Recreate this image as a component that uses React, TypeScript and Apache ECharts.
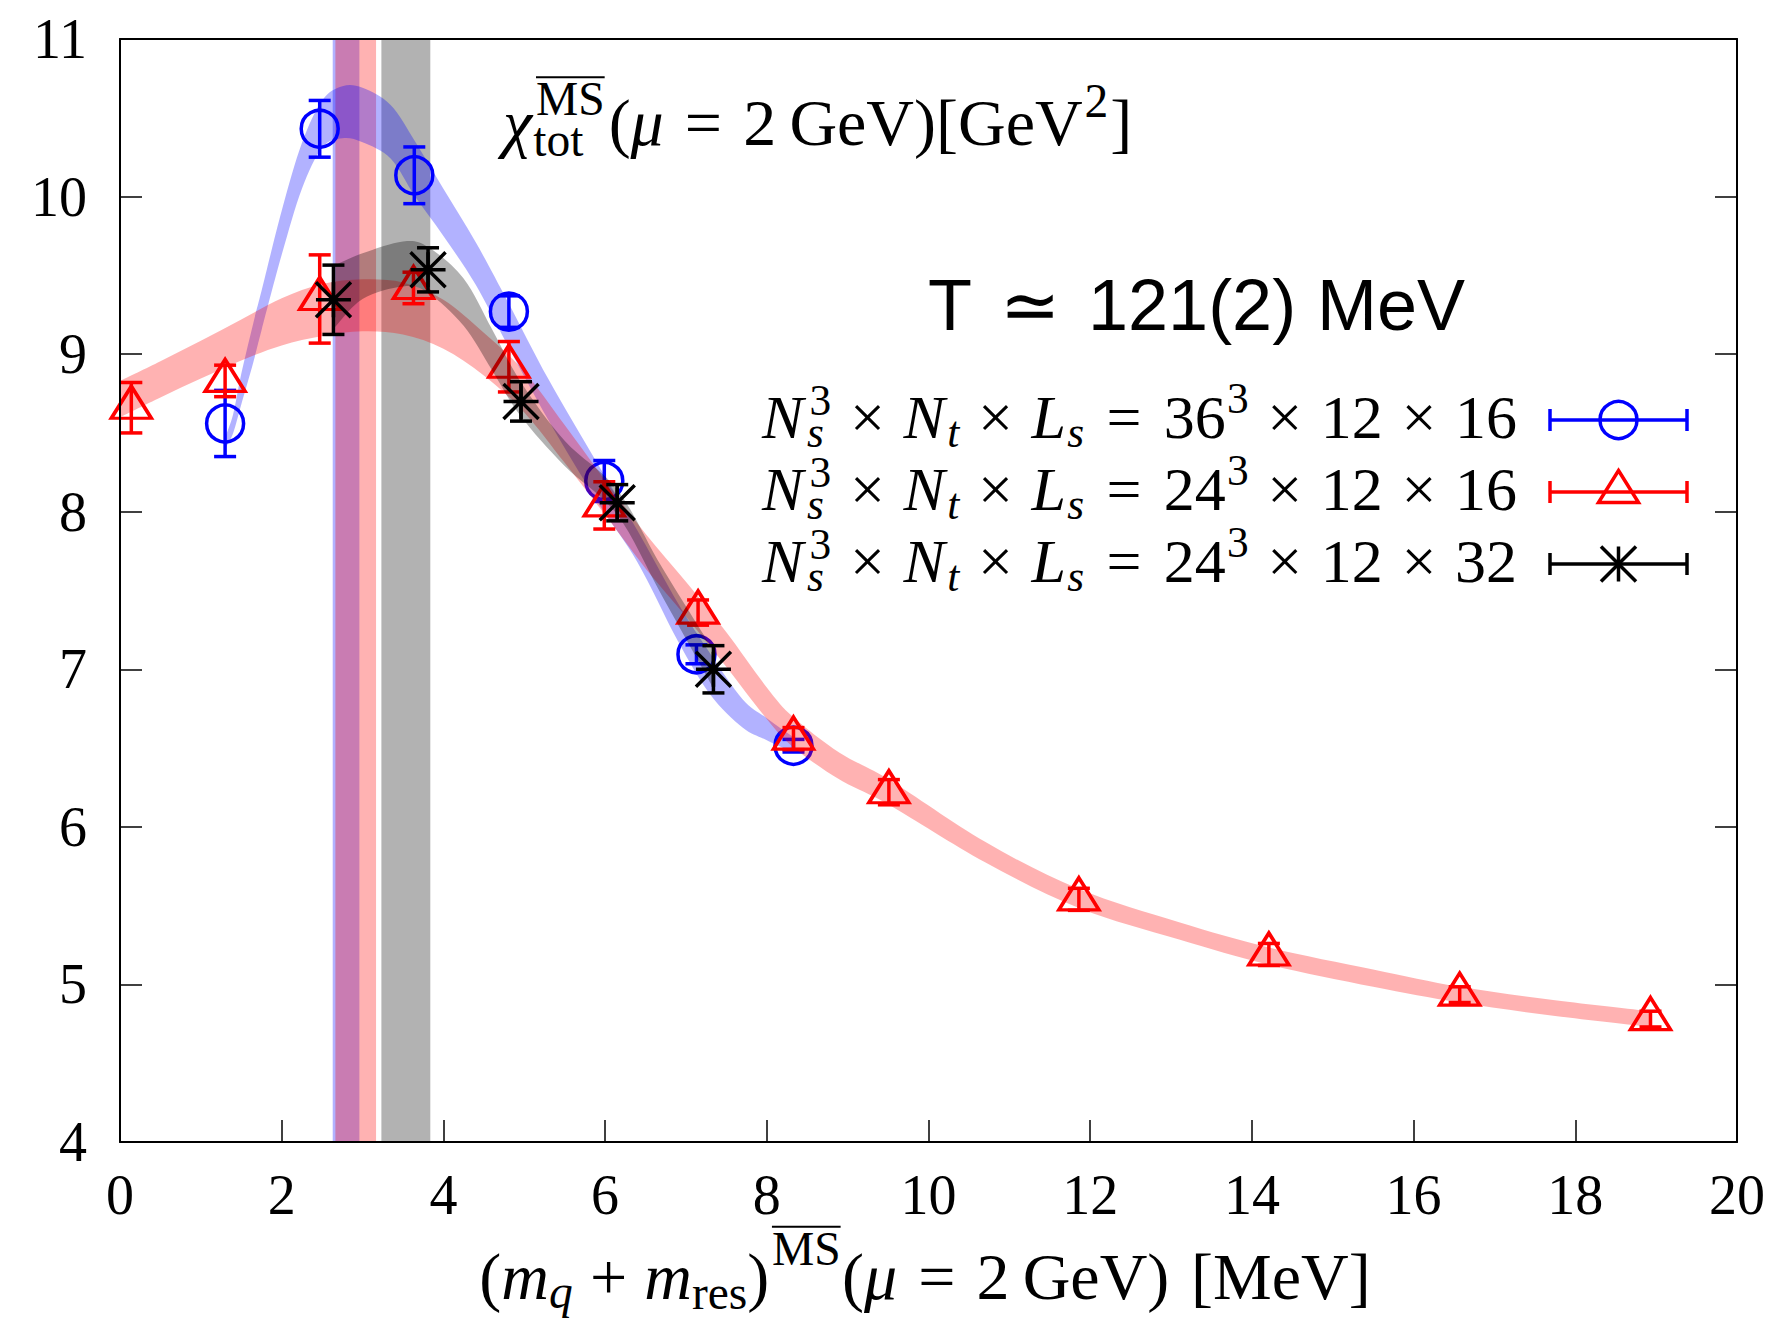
import React, { useEffect, useRef } from "react";
import * as echarts from "echarts";

// ---------------- axes ----------------
const X_MIN = 0;
const X_MAX = 20;
const X_STEP = 2;
const Y_MIN = 4;
const Y_MAX = 11;
const Y_STEP = 1;

// ---------------- measurements ----------------
// N_s^3 x N_t x L_s = 36^3 x 12 x 16
const blueX = [1.3, 2.47, 3.64, 4.81, 5.99, 7.13, 8.33];
const blueY = [8.56, 10.43, 10.135, 9.27, 8.195, 7.095, 6.515];
const blueErr = [0.21, 0.18, 0.18, 0.1, 0.13, 0.06, 0.04];

// N_s^3 x N_t x L_s = 24^3 x 12 x 16
const redX = [0.14, 1.3, 2.47, 3.63, 4.81, 5.99, 7.15, 8.33, 9.51, 11.86, 14.21, 16.57, 18.93];
const redY = [8.66, 8.83, 9.35, 9.42, 8.92, 8.04, 7.36, 6.56, 6.22, 5.54, 5.19, 4.935, 4.78];
const redErr = [0.16, 0.1, 0.28, 0.1, 0.16, 0.15, 0.08, 0.07, 0.08, 0.07, 0.07, 0.05, 0.05];

// N_s^3 x N_t x L_s = 24^3 x 12 x 32
const blackX = [2.64, 3.81, 4.96, 6.15, 7.34];
const blackY = [9.345, 9.535, 8.7, 8.057, 7.0];
const blackErr = [0.22, 0.14, 0.125, 0.115, 0.15];

// ---------------- fit bands (lower / upper edge) ----------------
const blueBandX = [1.3, 1.4, 1.5, 1.65, 1.75, 2.0, 2.25, 2.5, 2.75, 3.0, 3.35, 3.65, 4.0, 4.4, 4.8, 5.3, 5.9, 6.4, 6.9, 7.3, 7.7, 8.0, 8.33];
const blueBandLo = [8.4, 8.5, 8.68, 8.95, 9.15, 9.63, 10.05, 10.31, 10.37, 10.345, 10.24, 10.0, 9.75, 9.44, 9.05, 8.58, 8.067, 7.68, 7.18, 6.84, 6.63, 6.55, 6.47];
const blueBandHi = [8.47, 8.62, 8.875, 9.2, 9.4, 9.91, 10.34, 10.61, 10.7, 10.69, 10.58, 10.35, 10.05, 9.71, 9.33, 8.84, 8.31, 7.88, 7.42, 7.1, 6.81, 6.69, 6.57];

const redBandX = [0, 0.5, 1.0, 1.5, 2.0, 2.5, 3.0, 3.5, 4.0, 4.5, 5.0, 5.5, 6.0, 6.5, 7.0, 7.5, 8.0, 8.33, 8.9, 9.51, 10.7, 11.86, 13.1, 14.21, 15.5, 16.57, 17.75, 18.93];
const redBandLo = [8.6, 8.725, 8.845, 8.96, 9.055, 9.115, 9.145, 9.125, 9.035, 8.865, 8.63, 8.31, 7.98, 7.64, 7.335, 7.015, 6.685, 6.505, 6.3, 6.14, 5.775, 5.485, 5.285, 5.125, 4.985, 4.885, 4.8, 4.73];
const redBandHi = [8.83, 8.955, 9.085, 9.22, 9.355, 9.445, 9.475, 9.455, 9.345, 9.135, 8.89, 8.55, 8.2, 7.86, 7.555, 7.235, 6.885, 6.695, 6.47, 6.3, 5.905, 5.605, 5.395, 5.235, 5.095, 4.985, 4.9, 4.83];

const blackBandX = [2.64, 3.0, 3.5, 3.81, 4.25, 4.6, 4.95, 5.5, 6.15, 6.7, 7.34];
const blackBandLo = [9.16, 9.35, 9.43, 9.39, 9.18, 8.9, 8.61, 8.29, 7.98, 7.47, 6.88];
const blackBandHi = [9.56, 9.64, 9.715, 9.68, 9.48, 9.16, 8.83, 8.45, 8.14, 7.65, 7.12];

// vertical bands on the quark-mass axis
const massBands = [
  [2.631, 2.961],
  [2.664, 3.167],
  [3.233, 3.838],
];

// ---------------- styling ----------------
const BLUE = "#0000ff";
const RED = "#ff0000";
const BLACK = "#000000";
const BLUE_FILL = "rgba(0,0,255,0.3)";
const RED_FILL = "rgba(255,0,0,0.3)";
const GREY_FILL = "rgba(0,0,0,0.3)";
const massBandFills = [BLUE_FILL, RED_FILL, GREY_FILL];

const SERIF = "Liberation Serif";
const SANS = "Liberation Sans";
const W = 1784;
const H = 1322;
const GRID = { left: 120, right: 47, top: 39, bottom: 180 };

const LW = 3.5; // point / error bar stroke
const CAP = 11; // half width of error bar caps
const CIRCLE_SIZE = 37;
const TRI_W = 40;
const TRI_H = 32;
const TRI_SHIFT = 5.5;
const STAR_SIZE = 35;
const ASTERISK = "path://M-1,0L1,0M0,-1L0,1M-1,-1L1,1M-1,1L1,-1";

const zip = (xs: number[], ys: number[]) => xs.map((x, i) => [x, ys[i]]);

// ---------------- math-like text layout ----------------
type Tok = { t: string; it?: boolean; k?: number; dy?: number; over?: boolean; pre?: number; post?: number };
type Item = Tok | { up: Tok; dn: Tok };

let measureCtx: CanvasRenderingContext2D | null = null;
function ctx2d() {
  if (!measureCtx) measureCtx = document.createElement("canvas").getContext("2d");
  return measureCtx as CanvasRenderingContext2D;
}
function fontOf(size: number, it: boolean, fam: string) {
  return `${it ? "italic " : ""}${size}px "${fam}"`;
}
function textW(t: string, size: number, it: boolean, fam: string) {
  const c = ctx2d();
  c.font = fontOf(size, it, fam);
  return c.measureText(t).width;
}
// distance from the alphabetic baseline up to the "central" baseline used for SVG text
function centralAbove(size: number, it: boolean, fam: string) {
  const c = ctx2d();
  c.font = fontOf(size, it, fam);
  c.textBaseline = "alphabetic";
  const m: any = c.measureText("Mg");
  const a = m.fontBoundingBoxAscent;
  const d = m.fontBoundingBoxDescent;
  if (typeof a === "number" && typeof d === "number" && a > 0) return (a - d) / 2;
  return size * 0.34;
}

function textEl(t: string, x: number, baseline: number, size: number, it: boolean, fam: string, color: string) {
  return {
    type: "text",
    x,
    y: baseline - centralAbove(size, it, fam),
    silent: true,
    z: 50,
    style: {
      text: t,
      fontSize: size,
      fontFamily: fam,
      fontStyle: it ? "italic" : "normal",
      fill: color,
      align: "left",
      verticalAlign: "middle",
    },
  };
}

// superscript over subscript, drawn as one two-line rich text
function scriptStackEl(up: Tok, dn: Tok, x: number, baseline: number, base: number, fam: string, color: string) {
  const su = base * (up.k ?? 1);
  const sd = base * (dn.k ?? 1);
  const yu = baseline + (up.dy ?? 0) * base - centralAbove(su, !!up.it, fam);
  const yd = baseline + (dn.dy ?? 0) * base - centralAbove(sd, !!dn.it, fam);
  const L = yd - yu;
  const rs = (tk: Tok, size: number) => ({
    fontSize: size,
    fontFamily: fam,
    fontStyle: tk.it ? "italic" : "normal",
    lineHeight: L,
    fill: color,
    color,
    padding: [0, 0, 0, (tk.pre ?? 0) * base],
  });
  return {
    type: "text",
    x,
    y: (yu + yd) / 2,
    silent: true,
    z: 50,
    style: {
      text: `{u|${up.t}}\n{d|${dn.t}}`,
      align: "left",
      verticalAlign: "middle",
      rich: { u: rs(up, su), d: rs(dn, sd) },
    },
  };
}

function overlineEl(tk: Tok, x: number, baseline: number, base: number, fam: string, color: string) {
  const size = base * (tk.k ?? 1);
  const bx = x + (tk.pre ?? 0) * base;
  const w = textW(tk.t, size, !!tk.it, fam);
  const oy = baseline + (tk.dy ?? 0) * base - size * 0.8;
  return {
    type: "line",
    silent: true,
    z: 50,
    shape: { x1: bx, y1: oy, x2: bx + w, y2: oy },
    style: { stroke: color, lineWidth: 2 },
  };
}

function layoutMath(items: Item[], base: number, x: number, baseline: number, align: "left" | "right" | "center", fam = SERIF, color = BLACK) {
  const tokW = (tk: Tok) => (tk.pre ?? 0) * base + textW(tk.t, base * (tk.k ?? 1), !!tk.it, fam) + (tk.post ?? 0) * base;
  const itemW = (it: Item) => ("up" in it ? Math.max(tokW(it.up), tokW(it.dn)) : tokW(it as Tok));
  const total = items.reduce((s, it) => s + itemW(it), 0);
  let cx = align === "left" ? x : align === "right" ? x - total : x - total / 2;
  const out: any[] = [];
  for (const it of items) {
    if ("up" in it) {
      out.push(scriptStackEl(it.up, it.dn, cx, baseline, base, fam, color));
      if (it.up.over) out.push(overlineEl(it.up, cx, baseline, base, fam, color));
    } else {
      const tk = it as Tok;
      const size = base * (tk.k ?? 1);
      out.push(textEl(tk.t, cx + (tk.pre ?? 0) * base, baseline + (tk.dy ?? 0) * base, size, !!tk.it, fam, color));
      if (tk.over) out.push(overlineEl(tk, cx, baseline, base, fam, color));
    }
    cx += itemW(it);
  }
  return out;
}

// ---------------- texts ----------------
const panelTitle: Item[] = [
  { t: "χ", it: true },
  { up: { t: "MS", k: 0.72, dy: -0.45, over: true, pre: 0.06 }, dn: { t: "tot", k: 0.72, dy: 0.17, pre: 0.02 } },
  { t: "(", pre: 0.06 },
  { t: "μ", it: true },
  { t: "=", pre: 0.32, post: 0.32 },
  { t: "2" },
  { t: "GeV", pre: 0.2 },
  { t: ")" },
  { t: "[" },
  { t: "GeV" },
  { t: "2", k: 0.72, dy: -0.42, pre: 0.03 },
  { t: "]", pre: 0.03 },
];

const xTitle: Item[] = [
  { t: "(" },
  { t: "m", it: true },
  { t: "q", it: true, k: 0.72, dy: 0.13 },
  { t: "+", pre: 0.26, post: 0.26 },
  { t: "m", it: true },
  { t: "res", k: 0.72, dy: 0.15 },
  { t: ")" },
  { t: "MS", k: 0.72, dy: -0.52, over: true, pre: 0.04 },
  { t: "(", pre: 0.02 },
  { t: "μ", it: true },
  { t: "=", pre: 0.32, post: 0.32 },
  { t: "2" },
  { t: "GeV", pre: 0.2 },
  { t: ")" },
  { t: "[MeV]", pre: 0.33 },
];

const legendVolumes = ["36", "24", "24"];
const legendLs = ["16", "16", "32"];
const legendColors = [BLUE, RED, BLACK];
const legendKinds = ["circle", "triangle", "star"];

function legendText(vol: string, ls: string): Item[] {
  return [
    { t: "N", it: true },
    { up: { t: "3", k: 0.7, dy: -0.37, pre: 0.1 }, dn: { t: "s", it: true, k: 0.7, dy: 0.14, pre: 0.06 } },
    { t: "×", pre: 0.3, post: 0.3 },
    { t: "N", it: true },
    { t: "t", it: true, k: 0.7, dy: 0.14, pre: 0.04 },
    { t: "×", pre: 0.3, post: 0.3 },
    { t: "L", it: true },
    { t: "s", it: true, k: 0.7, dy: 0.14, pre: 0.02 },
    { t: "=", pre: 0.36, post: 0.36 },
    { t: vol },
    { t: "3", k: 0.7, dy: -0.4, pre: 0.02 },
    { t: "×", pre: 0.3, post: 0.3 },
    { t: "12" },
    { t: "×", pre: 0.3, post: 0.3 },
    { t: ls },
  ];
}

function legendKey(kind: string, color: string, y: number) {
  const x0 = 1550;
  const x1 = 1687;
  const cx = (x0 + x1) / 2;
  const st = { stroke: color, lineWidth: LW, fill: "none" };
  const els: any[] = [
    { type: "line", shape: { x1: x0, y1: y, x2: x1, y2: y }, style: st },
    { type: "line", shape: { x1: x0, y1: y - CAP, x2: x0, y2: y + CAP }, style: st },
    { type: "line", shape: { x1: x1, y1: y - CAP, x2: x1, y2: y + CAP }, style: st },
  ];
  if (kind === "circle") {
    els.push({ type: "circle", shape: { cx, cy: y, r: CIRCLE_SIZE / 2 }, style: { ...st, fill: "rgba(0,0,0,0)" } });
  } else if (kind === "triangle") {
    const c = y - TRI_SHIFT;
    els.push({
      type: "polygon",
      shape: { points: [[cx, c - TRI_H / 2], [cx + TRI_W / 2, c + TRI_H / 2], [cx - TRI_W / 2, c + TRI_H / 2]] },
      style: { ...st, fill: "rgba(0,0,0,0)" },
    });
  } else {
    const r = STAR_SIZE / 2;
    els.push({ type: "line", shape: { x1: cx, y1: y - r, x2: cx, y2: y + r }, style: st });
    els.push({ type: "line", shape: { x1: cx - r, y1: y - r, x2: cx + r, y2: y + r }, style: st });
    els.push({ type: "line", shape: { x1: cx - r, y1: y + r, x2: cx + r, y2: y - r }, style: st });
  }
  return els.map((e) => ({ ...e, silent: true, z: 50 }));
}

// ---------------- series builders ----------------
// Smooth (Catmull-Rom as cubic Bezier) path through pixel points
function smoothThrough(pts: number[][], start: "M" | "L") {
  const f = (v: number) => v.toFixed(2);
  let d = `${start}${f(pts[0][0])},${f(pts[0][1])}`;
  for (let i = 0; i < pts.length - 1; i++) {
    const p0 = pts[Math.max(i - 1, 0)];
    const p1 = pts[i];
    const p2 = pts[i + 1];
    const p3 = pts[Math.min(i + 2, pts.length - 1)];
    const c1x = p1[0] + (p2[0] - p0[0]) / 6;
    const c1y = p1[1] + (p2[1] - p0[1]) / 6;
    const c2x = p2[0] - (p3[0] - p1[0]) / 6;
    const c2y = p2[1] - (p3[1] - p1[1]) / 6;
    d += `C${f(c1x)},${f(c1y)},${f(c2x)},${f(c2y)},${f(p2[0])},${f(p2[1])}`;
  }
  return d;
}

function bandSeries(name: string, xs: number[], lo: number[], hi: number[], fill: string, z: number) {
  return {
    type: "custom",
    name,
    silent: true,
    clip: true,
    z,
    data: xs.map((x, i) => [x, lo[i], hi[i]]),
    encode: { x: 0, y: [1, 2] },
    renderItem: (params: any, api: any) => {
      if (params.dataIndex !== 0) return null;
      const upper = xs.map((x, i) => api.coord([x, hi[i]]));
      const lower = xs.map((x, i) => api.coord([x, lo[i]])).reverse();
      const d = smoothThrough(upper, "M") + smoothThrough(lower, "L") + "Z";
      return { type: "path", shape: { pathData: d }, style: { fill, stroke: "none" } };
    },
  };
}

function errorBarSeries(name: string, xs: number[], ys: number[], es: number[], color: string, z: number) {
  return {
    type: "custom",
    name: name + " errors",
    silent: true,
    z,
    data: xs.map((x, i) => [x, ys[i], es[i]]),
    encode: { x: 0, y: 1 },
    renderItem: (_params: any, api: any) => {
      const x = api.value(0);
      const y = api.value(1);
      const e = api.value(2);
      const top = api.coord([x, y + e]);
      const bot = api.coord([x, y - e]);
      const style = { stroke: color, lineWidth: LW };
      return {
        type: "group",
        children: [
          { type: "line", shape: { x1: top[0], y1: top[1], x2: bot[0], y2: bot[1] }, style },
          { type: "line", shape: { x1: top[0] - CAP, y1: top[1], x2: top[0] + CAP, y2: top[1] }, style },
          { type: "line", shape: { x1: bot[0] - CAP, y1: bot[1], x2: bot[0] + CAP, y2: bot[1] }, style },
        ],
      };
    },
  };
}

function buildOption() {
  const graphics: any[] = [];
  graphics.push(...layoutMath(panelTitle, 66, 503, 145, "left"));
  graphics.push(...layoutMath(xTitle, 66, 925, 1299, "center"));

  // temperature label
  graphics.push(textEl("T", 928, 330, 72, false, SANS, BLACK));
  graphics.push(textEl("≃", 1000, 330, 72, false, SANS, BLACK));
  graphics.push(textEl("121(2)", 1088, 330, 72, false, SANS, BLACK));
  graphics.push(textEl("MeV", 1317, 330, 72, false, SANS, BLACK));

  const legendBaselines = [438, 510, 582];
  legendBaselines.forEach((b, i) => {
    graphics.push(...layoutMath(legendText(legendVolumes[i], legendLs[i]), 62, 1517, b, "right"));
    graphics.push(...legendKey(legendKinds[i], legendColors[i], b - 18));
  });

  const axisFont = { fontSize: 56, fontFamily: SERIF, color: BLACK };
  const frameLine = { show: true, onZero: false, lineStyle: { color: BLACK, width: 2 } };
  const innerTick = { show: true, inside: true, length: 22, lineStyle: { color: BLACK, width: 1.5 } };

  return {
    animation: false,
    backgroundColor: "#ffffff",
    grid: { ...GRID, containLabel: false },
    xAxis: [
      {
        type: "value",
        min: X_MIN,
        max: X_MAX,
        interval: X_STEP,
        position: "bottom",
        z: 20,
        axisLine: frameLine,
        axisTick: innerTick,
        axisLabel: { ...axisFont, margin: 25 },
        splitLine: { show: false },
      },
      {
        type: "value",
        min: X_MIN,
        max: X_MAX,
        interval: X_STEP,
        position: "top",
        z: 20,
        axisLine: frameLine,
        axisTick: { show: false },
        axisLabel: { show: false },
        splitLine: { show: false },
      },
    ],
    yAxis: [
      {
        type: "value",
        min: Y_MIN,
        max: Y_MAX,
        interval: Y_STEP,
        position: "left",
        z: 20,
        axisLine: frameLine,
        axisTick: innerTick,
        axisLabel: { ...axisFont, margin: 33 },
        splitLine: { show: false },
      },
      {
        type: "value",
        min: Y_MIN,
        max: Y_MAX,
        interval: Y_STEP,
        position: "right",
        z: 20,
        axisLine: frameLine,
        axisTick: innerTick,
        axisLabel: { show: false },
        splitLine: { show: false },
      },
    ],
    graphic: { elements: graphics },
    series: [
      {
        type: "custom",
        name: "mass bands",
        silent: true,
        z: 1,
        data: massBands.map((b, i) => [b[0], b[1], Y_MIN, Y_MAX, i]),
        encode: { x: [0, 1], y: [2, 3] },
        renderItem: (_params: any, api: any) => {
          const p0 = api.coord([api.value(0), api.value(3)]);
          const p1 = api.coord([api.value(1), api.value(2)]);
          return {
            type: "rect",
            shape: { x: p0[0], y: p0[1], width: p1[0] - p0[0], height: p1[1] - p0[1] },
            style: { fill: massBandFills[api.value(4)] },
          };
        },
      },
      bandSeries("36x12x16 fit", blueBandX, blueBandLo, blueBandHi, BLUE_FILL, 2),
      errorBarSeries("36x12x16", blueX, blueY, blueErr, BLUE, 3),
      {
        type: "scatter",
        name: "36x12x16",
        silent: true,
        z: 4,
        data: zip(blueX, blueY),
        symbol: "circle",
        symbolSize: CIRCLE_SIZE,
        itemStyle: { color: "rgba(0,0,0,0)", borderColor: BLUE, borderWidth: LW, opacity: 1 },
      },
      bandSeries("24x12x16 fit", redBandX, redBandLo, redBandHi, RED_FILL, 5),
      errorBarSeries("24x12x16", redX, redY, redErr, RED, 6),
      {
        type: "scatter",
        name: "24x12x16",
        silent: true,
        z: 7,
        data: zip(redX, redY),
        symbol: "triangle",
        symbolSize: [TRI_W, TRI_H],
        symbolOffset: [0, -TRI_SHIFT],
        itemStyle: { color: "rgba(0,0,0,0)", borderColor: RED, borderWidth: LW, opacity: 1 },
      },
      bandSeries("24x12x32 fit", blackBandX, blackBandLo, blackBandHi, GREY_FILL, 8),
      errorBarSeries("24x12x32", blackX, blackY, blackErr, BLACK, 9),
      {
        type: "scatter",
        name: "24x12x32",
        silent: true,
        z: 10,
        data: zip(blackX, blackY),
        symbol: ASTERISK,
        symbolSize: STAR_SIZE,
        itemStyle: { color: BLACK, borderColor: BLACK, borderWidth: LW, opacity: 1 },
      },
    ],
  };
}

export default function App() {
  const ref = useRef<HTMLDivElement>(null);
  useEffect(() => {
    if (!ref.current) return;
    const chart = echarts.init(ref.current, undefined, { renderer: "svg", width: W, height: H });
    chart.setOption(buildOption() as any);
    return () => chart.dispose();
  }, []);
  return (
    <div
      ref={ref}
      style={{ position: "fixed", left: 0, top: 0, width: W, height: H, background: "#ffffff" }}
    />
  );
}
